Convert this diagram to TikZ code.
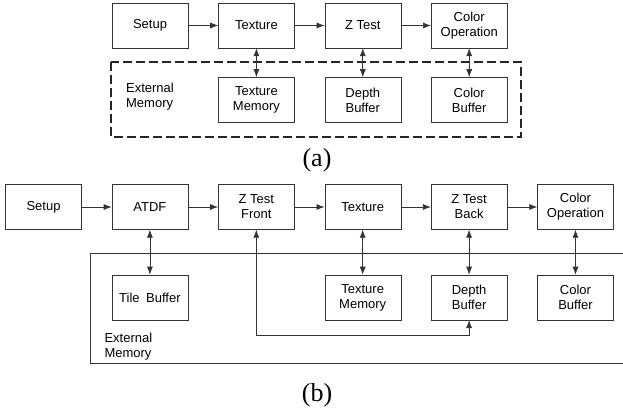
\documentclass[tikz,border=0pt]{standalone}
\usepackage{fontspec}
\setmainfont{Liberation Sans}
\newfontfamily\capfont{Liberation Serif}
\usetikzlibrary{positioning,arrows.meta}

\begin{document}
\begin{tikzpicture}[
  x=1pt, y=-1pt,
  font=\fontsize{13}{15}\selectfont,
  node distance=30pt and 30pt,
  box/.style={draw=black!80, align=center, minimum width=76pt, minimum height=45pt, inner sep=2pt},
  arr/.style={-{Latex[length=8pt,width=6pt]}, draw=black!80, line width=0.7pt},
  biarr/.style={{Latex[length=8pt,width=6pt]}-{Latex[length=8pt,width=6pt]}, draw=black!80, line width=0.7pt},
  sublabel/.style={font=\capfont\fontsize{26}{30}\selectfont}
]
\useasboundingbox (0,0) rectangle (623,410);

% (a) conventional pipeline
\node[box] (setupA) at (150,25.5) {Setup};
\node[box, right=of setupA] (texA) {Texture};
\node[box, right=of texA] (ztA) {Z Test};
\node[box, right=of ztA] (colA) {Color\\Operation};
\node[box, below=29pt of texA] (texmemA) {Texture\\Memory};
\node[box, below=29pt of ztA] (depthA) {Depth\\Buffer};
\node[box, below=29pt of colA] (colbufA) {Color\\Buffer};
\node[align=left] (extA) at (150,97) {External\\Memory};
\draw[black!85, line width=2pt, dash pattern=on 9pt off 4pt] (111,62) rectangle (521,137);

\draw[arr] (setupA) -- (texA);
\draw[arr] (texA) -- (ztA);
\draw[arr] (ztA) -- (colA);
\draw[biarr] (texA) -- (texmemA);
\draw[biarr] (ztA) -- (depthA);
\draw[biarr] (colA) -- (colbufA);
\node[sublabel] (capA) at (317,160) {(a)};

% (b) tiled pipeline with ATDF
\node[box] (setupB) at (43.5,207) {Setup};
\node[box, right=of setupB] (atdf) {ATDF};
\node[box, right=of atdf] (ztfront) {Z Test\\Front};
\node[box, right=of ztfront] (texB) {Texture};
\node[box, right=of texB] (ztback) {Z Test\\Back};
\node[box, right=of ztback] (colB) {Color\\Operation};
\node[box, below=45pt of atdf] (tilebuf) {Tile\enspace Buffer};
\node[box, below=45pt of texB] (texmemB) {Texture\\Memory};
\node[box, below=45pt of ztback] (depthB) {Depth\\Buffer};
\node[box, below=45pt of colB] (colbufB) {Color\\Buffer};
\node[align=left, anchor=north west] (extB) at (101,330) {External\\Memory};
\draw[black!80, line width=0.7pt] (623,253) -| (90,363) -- (623,363);

\draw[arr] (setupB) -- (atdf);
\draw[arr] (atdf) -- (ztfront);
\draw[arr] (ztfront) -- (texB);
\draw[arr] (texB) -- (ztback);
\draw[arr] (ztback) -- (colB);
\draw[biarr] (atdf) -- (tilebuf);
\draw[biarr] (texB) -- (texmemB);
\draw[biarr] (ztback) -- (depthB);
\draw[biarr] (colB) -- (colbufB);
\draw[biarr] (depthB.south) -- ++(0,15) -| (ztfront.south);
\node[sublabel] (capB) at (317,395) {(b)};
\end{tikzpicture}
\end{document}
